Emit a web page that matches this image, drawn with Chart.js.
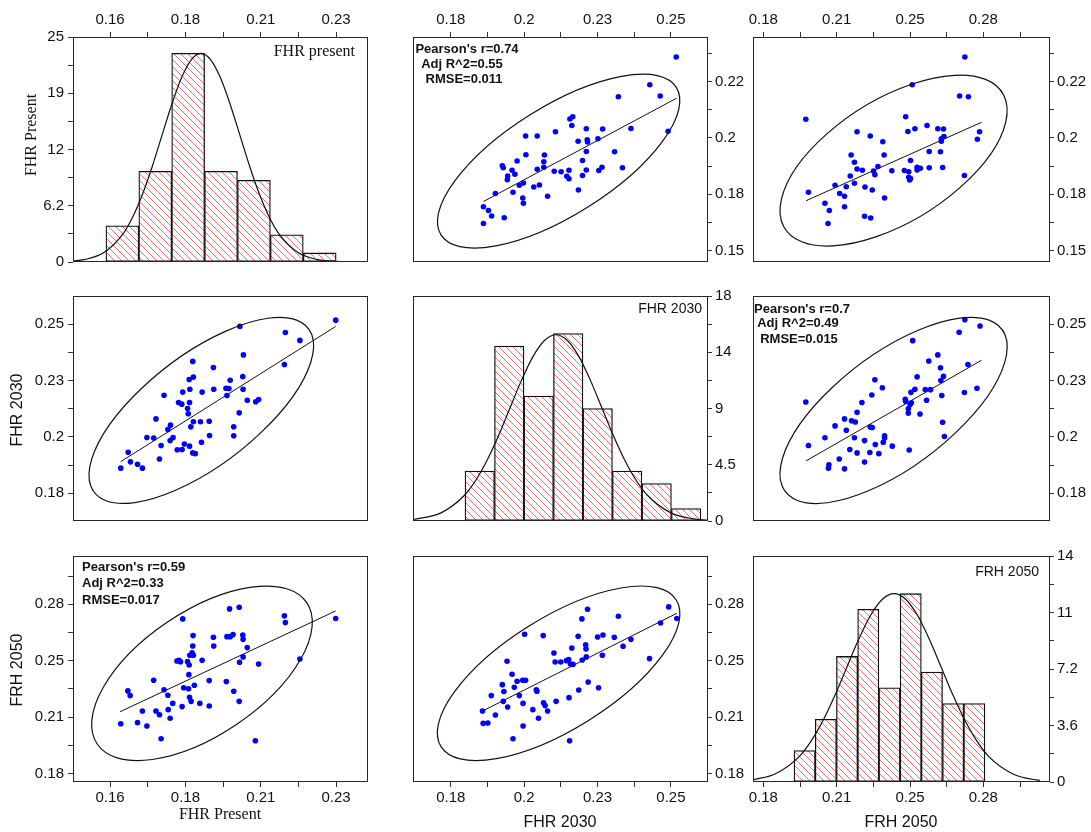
<!DOCTYPE html>
<html>
<head>
<meta charset="utf-8">
<script src="https://cdn.jsdelivr.net/npm/chart.js@4.4.0/dist/chart.umd.min.js"></script>
<style>
  body { margin: 0; background: #fff; overflow: hidden; }
  #wrap { position: relative; width: 1091px; height: 832px; }
  #wrap canvas { position: absolute; }
</style>
</head>
<body>
<div id="wrap"></div>
<script>
// values

// FHR present vs FHR 2030 (one entry per site)
const pairA_present = [0.1633, 0.1656, 0.1663, 0.1685, 0.1700, 0.1714, 0.1735, 0.1742, 0.1758, 0.1753,
  0.1767, 0.1779, 0.1787, 0.1786, 0.1795, 0.1808, 0.1812, 0.1822, 0.1823, 0.1825,
  0.1830, 0.1840, 0.1842, 0.1846, 0.1845, 0.1847, 0.1850, 0.1856, 0.1858, 0.1858,
  0.1856, 0.1864, 0.1885, 0.1880, 0.1883, 0.1907, 0.1908, 0.1920, 0.1921, 0.1959,
  0.1962, 0.1968, 0.1972, 0.1983, 0.1983, 0.2000, 0.2002, 0.2011, 0.2012, 0.2013,
  0.2025, 0.2051, 0.2060, 0.2140, 0.2143, 0.2188, 0.2299, 0.1846];
const pairA_2030 = [0.1904, 0.1970, 0.1930, 0.1920, 0.1904, 0.2031, 0.2029, 0.2108, 0.1998, 0.1942,
  0.2206, 0.2064, 0.2082, 0.2018, 0.2031, 0.1980, 0.2176, 0.2169, 0.1981, 0.2219,
  0.2004, 0.2151, 0.2129, 0.2176, 0.2271, 0.2231, 0.2075, 0.2346, 0.2281, 0.2096,
  0.1967, 0.1964, 0.2219, 0.2096, 0.2011, 0.2098, 0.2039, 0.2321, 0.2231, 0.2235,
  0.2205, 0.2234, 0.2268, 0.2075, 0.2038, 0.2133, 0.2491, 0.2283, 0.2231, 0.2373,
  0.2185, 0.2179, 0.2188, 0.2333, 0.2466, 0.2433, 0.2517, 0.1995];

// FHR present vs FRH 2050
const pairB_present = [0.1633, 0.1655, 0.1662, 0.1685, 0.1700, 0.1714, 0.1735, 0.1742, 0.1753, 0.1758,
  0.1767, 0.1780, 0.1779, 0.1786, 0.1794, 0.1807, 0.1813, 0.1818, 0.1823, 0.1825,
  0.1828, 0.1840, 0.1844, 0.1845, 0.1846, 0.1851, 0.1847, 0.1854, 0.1856, 0.1857,
  0.1858, 0.1861, 0.1843, 0.1878, 0.1885, 0.1907, 0.1907, 0.1920, 0.1921, 0.1960,
  0.1962, 0.1972, 0.1981, 0.1983, 0.2000, 0.2000, 0.2001, 0.2011, 0.2012, 0.2012,
  0.2025, 0.2050, 0.2060, 0.2140, 0.2143, 0.2188, 0.2299, 0.1970];
const pairB_2050 = [0.2094, 0.2288, 0.2260, 0.2100, 0.2169, 0.2080, 0.2351, 0.2169, 0.2147, 0.2005,
  0.2295, 0.2177, 0.2262, 0.2126, 0.2214, 0.2465, 0.2469, 0.2461, 0.2195, 0.2714,
  0.2307, 0.2461, 0.2384, 0.2441, 0.2250, 0.2226, 0.2499, 0.2514, 0.2554, 0.2615,
  0.2499, 0.2321, 0.2301, 0.2214, 0.2469, 0.2349, 0.2199, 0.2605, 0.2554, 0.2343,
  0.2609, 0.2609, 0.2621, 0.2286, 0.2226, 0.2783, 0.2457, 0.2619, 0.2593, 0.2489,
  0.2544, 0.1993, 0.2447, 0.2732, 0.2692, 0.2477, 0.2716, 0.2773];

// FHR 2030 vs FRH 2050
const pairC_2030 = [0.1901, 0.1903, 0.1918, 0.1929, 0.1942, 0.1964, 0.1967, 0.1969, 0.1979, 0.1981,
  0.1995, 0.1998, 0.2002, 0.2011, 0.2018, 0.2029, 0.2038, 0.2030, 0.2030, 0.2035,
  0.2061, 0.2072, 0.2074, 0.2079, 0.2094, 0.2095, 0.2100, 0.2108, 0.2128, 0.2132,
  0.2135, 0.2150, 0.2168, 0.2175, 0.2181, 0.2189, 0.2176, 0.2178, 0.2185, 0.2205,
  0.2207, 0.2217, 0.2218, 0.2229, 0.2230, 0.2231, 0.2235, 0.2237, 0.2267, 0.2284,
  0.2270, 0.2282, 0.2320, 0.2333, 0.2348, 0.2373, 0.2432, 0.2467, 0.2493, 0.2519];
const pairC_2050 = [0.2169, 0.2096, 0.2098, 0.2260, 0.2145, 0.2325, 0.2226, 0.2284, 0.2463, 0.2193,
  0.2386, 0.2005, 0.2309, 0.2345, 0.2260, 0.2351, 0.2351, 0.2214, 0.2080, 0.2623,
  0.2177, 0.2295, 0.2286, 0.2126, 0.2615, 0.2218, 0.2201, 0.2169, 0.2512, 0.2459,
  0.2226, 0.2459, 0.2467, 0.2473, 0.2447, 0.2445, 0.2248, 0.1993, 0.2542, 0.2611,
  0.2293, 0.2714, 0.2471, 0.2560, 0.2536, 0.2489, 0.2771, 0.2341, 0.2607, 0.2619,
  0.2307, 0.2499, 0.2605, 0.2730, 0.2552, 0.2593, 0.2479, 0.2690, 0.2785, 0.2716];

// linear fits, as drawn in each panel: [x start, x end], [y start, y end]
const fit2030OnPresentX = [0.1633, 0.2299], fit2030OnPresentY = [0.1931, 0.2491];
const fitPresentOn2030X = [0.1904, 0.2518], fitPresentOn2030Y = [0.1721, 0.2134];
const fit2050OnPresentX = [0.1631, 0.2299], fit2050OnPresentY = [0.2165, 0.2761];
const fitPresentOn2050X = [0.1994, 0.2792], fitPresentOn2050Y = [0.1724, 0.2038];
const fit2050On2030X = [0.1901, 0.2519], fit2050On2030Y = [0.2169, 0.2747];
const fit2030On2050X = [0.1994, 0.2792], fit2030On2050Y = [0.1934, 0.2351];

// confidence ellipses: centre, end of major axis, end of minor axis (pair order)
const ellipseA = [[0.18826, 0.21431], [0.21776, 0.25173], [0.1698, 0.2235]];
const ellipseB = [[0.18846, 0.2392], [0.22093, 0.2810], [0.19915, 0.2089]];
const ellipseC = [[0.2143, 0.2392], [0.2517, 0.2826], [0.2237, 0.2112]];

// histograms: bin centres and counts
const histPresentBins = [0.16380, 0.17399, 0.18418, 0.19437, 0.20456, 0.21475, 0.22494];
const histPresentCounts = [4, 10, 23, 10, 9, 3, 1];
const hist2030Bins = [0.18922, 0.19860, 0.20797, 0.21735, 0.22673, 0.23610, 0.24548, 0.25486];
const hist2030Counts = [4, 14, 10, 15, 9, 4, 3, 1];
const hist2050Bins = [0.19876, 0.20841, 0.21805, 0.22770, 0.23734, 0.24699, 0.25663, 0.26628, 0.27592];
const hist2050Counts = [2, 4, 8, 11, 6, 12, 7, 5, 5];

// normal curves, points taken along the drawn line
const curvePresentX = [0.1485, 0.15191, 0.15795, 0.16399, 0.16701, 0.17003, 0.17305, 0.17607, 0.17909, 0.18211, 0.18513, 0.18815,
  0.19117, 0.19419, 0.19721, 0.20023, 0.20325, 0.20627, 0.20929, 0.21231, 0.21835, 0.22439, 0.2312];
const curvePresentY = [0.11, 0.26, 1.01, 3.11, 4.97, 7.47, 10.53, 13.95, 17.36, 20.30, 22.29, 23.0,
  22.29, 20.30, 17.36, 13.95, 10.53, 7.47, 4.97, 3.11, 1.01, 0.26, 0.04];
const curve2030X = [0.168, 0.1769, 0.18421, 0.18787, 0.19152, 0.19518, 0.19883, 0.20249, 0.20614, 0.2098, 0.21345,
  0.2171, 0.22076, 0.22442, 0.22807, 0.23173, 0.23538, 0.23904, 0.24269, 0.25, 0.25731, 0.2618];
const curve2030Y = [0.12, 0.65, 2.02, 3.22, 4.84, 6.82, 9.04, 11.25, 13.15, 14.44, 14.9,
  14.44, 13.15, 11.25, 9.04, 6.82, 4.84, 3.22, 2.02, 0.65, 0.17, 0.06];
const curve2050X = [0.1753, 0.18553, 0.1963, 0.20169, 0.20707, 0.21246, 0.21785, 0.22324, 0.22863, 0.23401, 0.2394,
  0.24479, 0.25018, 0.25556, 0.26095, 0.26634, 0.27173, 0.27711, 0.2825, 0.29328, 0.30405, 0.3058];
const curve2050Y = [0.14, 0.53, 1.62, 2.60, 3.90, 5.49, 7.28, 9.06, 10.59, 11.63, 12.0,
  11.63, 10.59, 9.06, 7.28, 5.49, 3.90, 2.60, 1.62, 0.53, 0.13, 0.11];

// tick values and their printed labels
const presentXTicks = [0.16, 0.18333, 0.20667, 0.23];
const presentXLabels = ['0.16', '0.18', '0.21', '0.23'];
const presentYTicks = [0.1525, 0.175, 0.1975, 0.22];
const presentYLabels = ['0.15', '0.18', '0.2', '0.22'];
const f2030Ticks = [0.18, 0.20333, 0.22667, 0.25];
const f2030Labels = ['0.18', '0.2', '0.23', '0.25'];
const f2050Ticks = [0.18, 0.21333, 0.24667, 0.28];
const f2050Labels = ['0.18', '0.21', '0.25', '0.28'];
const countPTicks = [0, 6.2, 12.4, 18.6, 24.8];
const countPLabels = ['0', '6.2', '12', '19', '25'];
const count30Ticks = [0, 4.5, 9, 13.5, 18];
const count30Labels = ['0', '4.5', '9', '14', '18'];
const count50Ticks = [0, 3.6, 7.2, 10.8, 14.4];
const count50Labels = ['0', '3.6', '7.2', '11', '14'];

// ---------------------------------------------------------------

const SANS = "'Liberation Sans', Arial, sans-serif";
const SERIF = "'Liberation Serif', 'Times New Roman', serif";
const M = 70; // room round each plot box for axes and titles

const axes = {
  presentX: { min: 0.1485, max: 0.2399, major: presentXTicks, labels: presentXLabels },
  presentY: { min: 0.1479, max: 0.2379, major: presentYTicks, labels: presentYLabels },
  f2030X: { min: 0.168, max: 0.2618, major: f2030Ticks, labels: f2030Labels },
  f2030Y: { min: 0.1685, max: 0.2617, major: f2030Ticks, labels: f2030Labels },
  f2050X: { min: 0.1753, max: 0.3103, major: f2050Ticks, labels: f2050Labels },
  f2050Y: { min: 0.1749, max: 0.3086, major: f2050Ticks, labels: f2050Labels },
  countP: { min: 0, max: 24.8, major: countPTicks, labels: countPLabels },
  count30: { min: 0, max: 18, major: count30Ticks, labels: count30Labels },
  count50: { min: 0, max: 14.4, major: count50Ticks, labels: count50Labels }
};

// major ticks with labels plus unlabelled minor ticks halfway between
function tickList(ax) {
  const m = ax.major, step = m[1] - m[0];
  const out = m.map((v, i) => ({ v: v, t: ax.labels[i] }));
  for (let i = 0; i < m.length - 1; i++) out.push({ v: (m[i] + m[i + 1]) / 2, t: '' });
  const lo = m[0] - step / 2, hi = m[m.length - 1] + step / 2;
  if (lo > ax.min + step * 0.1) out.push({ v: lo, t: '' });
  if (hi < ax.max - step * 0.1) out.push({ v: hi, t: '' });
  return out.sort((a, b) => a.v - b.v);
}

function scaleCfg(ax, side, isX) {
  const list = tickList(ax);
  const pad = { top: 3, bottom: 2, left: 4, right: 3 }[side] || 0;
  return {
    type: 'linear',
    min: ax.min,
    max: ax.max,
    offset: false,
    display: !!side,
    position: side || (isX ? 'bottom' : 'left'),
    border: { display: false },
    grid: { display: true, drawOnChartArea: false, drawTicks: true, offset: false,
            tickLength: side === 'right' ? 4 : 5, color: '#333', lineWidth: 1 },
    ticks: {
      autoSkip: false, maxRotation: 0, minRotation: 0, padding: pad,
      color: '#111', font: { family: SANS, size: 15 },
      callback: (v, i) => (list[i] ? list[i].t : '')
    },
    afterBuildTicks: s => { s.ticks = list.map(o => ({ value: o.v })); },
    afterFit: s => {
      const size = side ? M : 0;
      if (isX) s.height = size; else s.width = size;
    }
  };
}

const cols = [[73, 295], [413, 295], [753, 297]];
const rows = [[37, 225], [296, 225], [556, 226]];

function pts(xs, ys) { return xs.map((x, i) => ({ x: x, y: ys[i] })); }

function statNotes(lines, xs, ys, align) {
  return lines.map((t, i) => ({ t: t, x: xs[i], y: ys[i], size: 13, bold: true, align: align }));
}

const panels = [
  { r: 0, c: 0, hist: [histPresentBins, histPresentCounts, curvePresentX, curvePresentY],
    xAx: 'presentX', xSide: 'top', yAx: 'countP', ySide: 'left',
    notes: [{ t: 'FHR present', x: 282, y: 15, size: 16, serif: true, align: 'right' },
            { t: 'FHR Present', x: -41, y: 98, size: 16, serif: true, rot: true }] },
  { r: 0, c: 1, sx: pairA_2030, sy: pairA_present, fit: [fitPresentOn2030X, fitPresentOn2030Y], ell: ellipseA, swap: true,
    xAx: 'f2030X', xSide: 'top', yAx: 'presentY', ySide: 'right',
    notes: statNotes(["Pearson's r=0.74", 'Adj R^2=0.55', 'RMSE=0.011'], [54, 49, 51], [12, 27, 42], 'center') },
  { r: 0, c: 2, sx: pairB_2050, sy: pairB_present, fit: [fitPresentOn2050X, fitPresentOn2050Y], ell: ellipseB, swap: true,
    xAx: 'f2050X', xSide: 'top', yAx: 'presentY', ySide: 'right', notes: [] },
  { r: 1, c: 0, sx: pairA_present, sy: pairA_2030, fit: [fit2030OnPresentX, fit2030OnPresentY], ell: ellipseA, swap: false,
    xAx: 'presentX', xSide: null, yAx: 'f2030Y', ySide: 'left',
    notes: [{ t: 'FHR 2030', x: -55, y: 114, size: 16, rot: true }] },
  { r: 1, c: 1, hist: [hist2030Bins, hist2030Counts, curve2030X, curve2030Y],
    xAx: 'f2030X', xSide: null, yAx: 'count30', ySide: 'right',
    notes: [{ t: 'FHR 2030', x: 289, y: 13, size: 14, align: 'right' }] },
  { r: 1, c: 2, sx: pairC_2050, sy: pairC_2030, fit: [fit2030On2050X, fit2030On2050Y], ell: ellipseC, swap: true,
    xAx: 'f2050X', xSide: null, yAx: 'f2030Y', ySide: 'right',
    notes: statNotes(["Pearson's r=0.7", 'Adj R^2=0.49', 'RMSE=0.015'], [49, 45, 46], [13, 27, 43], 'center') },
  { r: 2, c: 0, sx: pairB_present, sy: pairB_2050, fit: [fit2050OnPresentX, fit2050OnPresentY], ell: ellipseB, swap: false,
    xAx: 'presentX', xSide: 'bottom', yAx: 'f2050Y', ySide: 'left',
    notes: statNotes(["Pearson's r=0.59", 'Adj R^2=0.33', 'RMSE=0.017'], [9, 9, 9], [11, 27, 44], 'left').concat([
            { t: 'FRH 2050', x: -55, y: 114, size: 16, rot: true },
            { t: 'FHR Present', x: 147, y: 259, size: 16, serif: true }]) },
  { r: 2, c: 1, sx: pairC_2030, sy: pairC_2050, fit: [fit2050On2030X, fit2050On2030Y], ell: ellipseC, swap: false,
    xAx: 'f2030X', xSide: 'bottom', yAx: 'f2050Y', ySide: 'right',
    notes: [{ t: 'FHR 2030', x: 147, y: 267, size: 16 }] },
  { r: 2, c: 2, hist: [hist2050Bins, hist2050Counts, curve2050X, curve2050Y],
    xAx: 'f2050X', xSide: 'bottom', yAx: 'count50', ySide: 'right',
    notes: [{ t: 'FRH 2050', x: 286, y: 16, size: 14, align: 'right' },
            { t: 'FRH 2050', x: 148, y: 267, size: 16 }] }
];

// red diagonal hatch for the histogram bars
function hatch() {
  const c = document.createElement('canvas');
  c.width = 7; c.height = 7;
  const g = c.getContext('2d');
  g.fillStyle = '#fff';
  g.fillRect(0, 0, 7, 7);
  g.strokeStyle = 'rgba(255,30,30,0.8)';
  g.lineWidth = 0.8;
  g.beginPath();
  g.moveTo(-1, -1); g.lineTo(8, 8);
  g.stroke();
  return g.createPattern(c, 'repeat');
}

const ellipsePlugin = {
  id: 'ellipse',
  afterDatasetsDraw(chart) {
    const p = chart.canvas.$panel;
    if (!p || !p.ell) return;
    const xs = chart.scales.x, ys = chart.scales.y;
    const toPx = q => {
      const a = p.swap ? q[1] : q[0], b = p.swap ? q[0] : q[1];
      return [xs.getPixelForValue(a), ys.getPixelForValue(b)];
    };
    const c = toPx(p.ell[0]), u = toPx(p.ell[1]), v = toPx(p.ell[2]);
    const g = chart.ctx;
    g.save();
    g.beginPath();
    g.transform(u[0] - c[0], u[1] - c[1], v[0] - c[0], v[1] - c[1], c[0], c[1]);
    g.arc(0, 0, 1, 0, Math.PI * 2);
    g.restore();
    g.save();
    g.strokeStyle = '#111';
    g.lineWidth = 1.2;
    g.stroke();
    g.restore();
  }
};

const framePlugin = {
  id: 'frame',
  afterDatasetsDraw(chart) {
    const a = chart.chartArea, g = chart.ctx;
    g.save();
    g.strokeStyle = '#262626';
    g.lineWidth = 1;
    g.strokeRect(Math.round(a.left) + 0.5, Math.round(a.top) + 0.5,
                 Math.round(a.right - a.left) - 1, Math.round(a.bottom - a.top) - 1);
    g.restore();
  }
};

const notesPlugin = {
  id: 'notes',
  afterDraw(chart) {
    const p = chart.canvas.$panel;
    if (!p || !p.notes) return;
    const a = chart.chartArea, g = chart.ctx;
    p.notes.forEach(n => {
      g.save();
      g.fillStyle = '#111';
      g.font = (n.bold ? 'bold ' : '') + n.size + 'px ' + (n.serif ? SERIF : SANS);
      g.textAlign = n.align || 'center';
      g.textBaseline = 'middle';
      g.translate(a.left + n.x, a.top + n.y);
      if (n.rot) g.rotate(-Math.PI / 2);
      g.fillText(n.t, 0, 0);
      g.restore();
    });
  }
};

Chart.register(ellipsePlugin, framePlugin, notesPlugin);

const wrap = document.getElementById('wrap');
const pattern = hatch();

panels.forEach(p => {
  const L = cols[p.c][0], W = cols[p.c][1], T = rows[p.r][0], H = rows[p.r][1];
  const cv = document.createElement('canvas');
  cv.width = W + 2 * M;
  cv.height = H + 2 * M;
  cv.style.left = (L - M) + 'px';
  cv.style.top = (T - M) + 'px';
  wrap.appendChild(cv);
  cv.$panel = p;

  let type, datasets;
  if (p.hist) {
    type = 'bar';
    datasets = [
      { type: 'line', data: pts(p.hist[2], p.hist[3]), borderColor: '#111', borderWidth: 1.2,
        pointRadius: 0, tension: 0.4, cubicInterpolationMode: 'monotone', fill: false },
      { type: 'bar', data: pts(p.hist[0], p.hist[1]), backgroundColor: pattern,
        borderColor: '#111', borderWidth: 1.3, borderSkipped: false,
        barPercentage: 1, categoryPercentage: 1, grouped: false }
    ];
  } else {
    type = 'scatter';
    datasets = [
      { type: 'scatter', data: pts(p.sx, p.sy), pointRadius: 2.8, pointBorderWidth: 0,
        pointBackgroundColor: '#0000ff', backgroundColor: '#0000ff' },
      { type: 'line', data: pts(p.fit[0], p.fit[1]), borderColor: '#111', borderWidth: 1,
        pointRadius: 0, fill: false }
    ];
  }

  new Chart(cv, {
    type: type,
    data: { datasets: datasets },
    options: {
      responsive: false,
      animation: false,
      devicePixelRatio: 1,
      events: [],
      layout: {
        autoPadding: false,
        padding: {
          top: p.xSide === 'top' ? 0 : M,
          bottom: p.xSide === 'bottom' ? 0 : M,
          left: p.ySide === 'left' ? 0 : M,
          right: p.ySide === 'right' ? 0 : M
        }
      },
      plugins: { legend: { display: false }, tooltip: { enabled: false } },
      scales: {
        x: scaleCfg(axes[p.xAx], p.xSide, true),
        y: scaleCfg(axes[p.yAx], p.ySide, false)
      }
    }
  });
});
</script>
</body>
</html>
